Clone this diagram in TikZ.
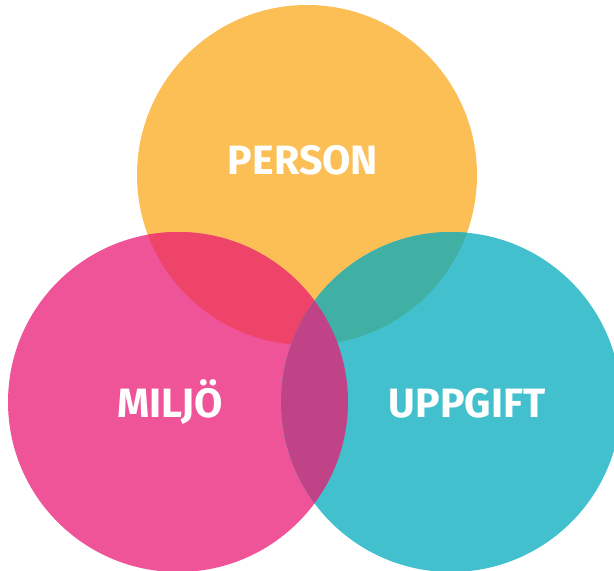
\documentclass[tikz,border=0pt]{standalone}
\usepackage{fontspec}
\setsansfont{Fira Sans}
\definecolor{personcol}{HTML}{FBBF55}
\definecolor{miljocol}{HTML}{EF5498}
\definecolor{uppgiftcol}{HTML}{42C0CD}
\definecolor{pmcol}{HTML}{EE446A}
\definecolor{pucol}{HTML}{40B0A4}
\definecolor{mucol}{HTML}{C04388}

\begin{document}
\begin{tikzpicture}[x=1pt,y=-1pt,
    venn/.style={circle,minimum size=340pt,inner sep=0pt},
    lbl/.style={text=white,anchor=base,font=\sffamily\bfseries\fontsize{41}{41}\selectfont}]
\useasboundingbox (0,0) rectangle (614,571);

\node[venn,fill=personcol] at (307,175) (person) {};
\node[venn,fill=miljocol] at (178,402) (miljo) {};
\node[venn,fill=uppgiftcol] at (451,402) (uppgift) {};

% overlaps
\begin{scope}
\clip (person.center) circle[radius=170pt];
\fill[pmcol] (miljo.center) circle[radius=170pt];
\fill[pucol] (uppgift.center) circle[radius=170pt];
\end{scope}
\begin{scope}
\clip (miljo.center) circle[radius=170pt];
\fill[mucol] (uppgift.center) circle[radius=170pt];
\end{scope}

\node[lbl] at (303,174) (personlbl) {PERSON};
\node[lbl] at (170,417) (miljolbl) {MILJÖ};
\node[lbl] at (467,417) (uppgiftlbl) {UPPGIFT};
\end{tikzpicture}
\end{document}
